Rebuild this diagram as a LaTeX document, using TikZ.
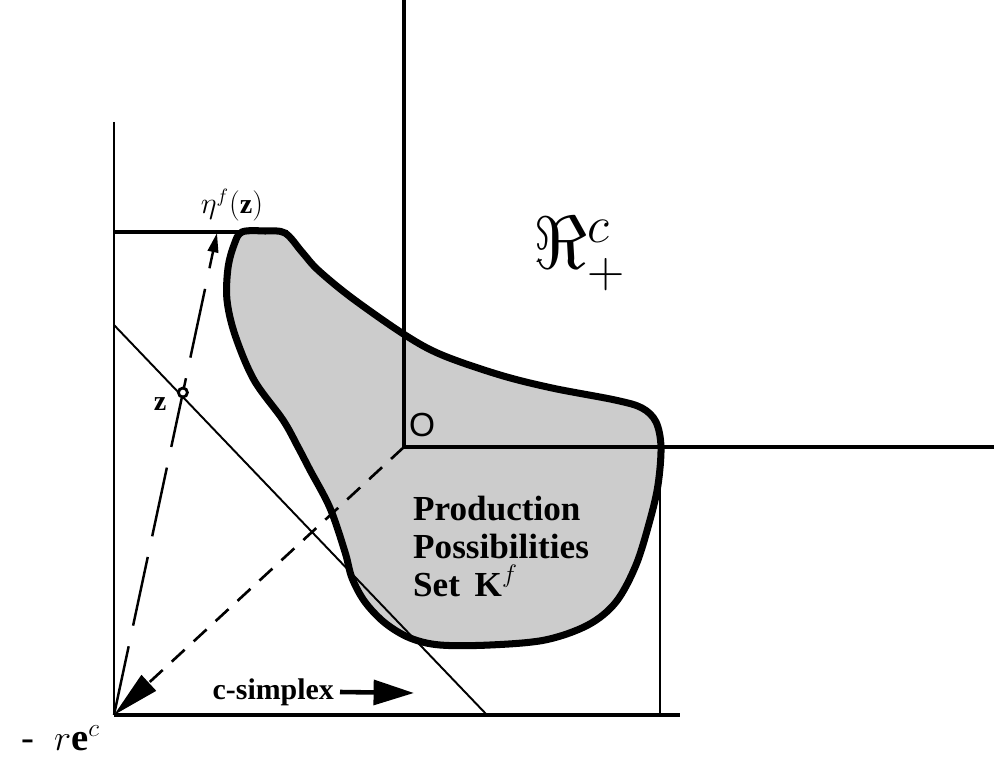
\documentclass[tikz,border=0pt]{standalone}
\usepackage{amsmath,amssymb}
\usepackage{fontspec}
\setmainfont{Liberation Serif}
\setsansfont{Liberation Sans}
\usetikzlibrary{
  calc,
  arrows.meta,
  positioning
}

\begin{document}
\begin{tikzpicture}[
    x=0.02cm, y=-0.02cm,
    % stili delle linee
    axis/.style={line width=1.9pt},
    frame/.style={line width=1.5pt},
    heavyframe/.style={line width=2.8pt},
    simplex/.style={line width=1.1pt},
    thin edge/.style={line width=1.1pt},
    pset/.style={line width=4pt, fill=black!20, line join=round},
    shortdash/.style={line width=1.5pt, dash pattern=on 10pt off 7pt},
    longdash/.style={line width=1.4pt, dash pattern=on 40pt off 12pt},
    bigtip/.style={-{Triangle[length=27pt,width=12pt]}},
    % stili dei testi
    setlabel/.style={font=\bfseries\fontsize{20}{21.5}\selectfont, align=left, anchor=base west},
    mathlabel/.style={font=\fontsize{16}{18}\selectfont}
  ]
  \useasboundingbox (0,0) rectangle (994,763);

  % Punti
  \coordinate (O) at (404,447);
  \coordinate (corner) at (114,715);
  \coordinate (eta) at (217,233);
  \coordinate (zpt) at ($(corner)!0.669!(eta)$);
  \coordinate (simplexA) at (114,325);
  \coordinate (simplexB) at (487,715);
  \coordinate (arrowend) at (414,693);

  % Insieme delle possibilita' di produzione
  \draw[pset] plot[smooth cycle, tension=0.55] coordinates {
      (242,232) (265,231) (285,233) (302,252) (318,270) (352,298)
      (405,335) (442,355) (500,375) (552,388) (615,400) (642,408)
      (656,422) (661,447) (658,485) (650,520) (636,565) (616,602)
      (588,625) (545,640) (490,645) (440,645) (410,638) (385,623)
      (365,602) (352,578) (345,552) (330,508) (310,470) (298,447)
      (283,420) (254,380) (235,335) (227,300) (228,268) (234,245)};

  % Assi e cornice
  \draw[axis] (O) -- (404,0);
  \draw[axis] (O) -- (994,447);
  \draw[frame] (114,122) -- (corner);
  \draw[heavyframe] (114,232) -- (288,232);
  \draw[heavyframe] (corner) -- (680,715);
  \draw[thin edge] (660,447) -- (660,715);
  \draw[simplex] (simplexA) -- (simplexB);

  % Raggi tratteggiati
  \draw[shortdash, bigtip] (O) -- (corner);
  \draw[longdash, -{Triangle[length=11pt,width=6pt]}] (corner) -- (eta);
  \draw[line width=1.6pt, fill=white] (zpt) circle (4.5);

  % Etichette
  \node (etalabel) [mathlabel] at (232,205) {$\eta^{f}(\mathbf{z})$};
  \node (zlabel) [mathlabel] at (160,404) {$\mathbf{z}$};
  \node (reals) [font=\fontsize{24}{26}\selectfont, scale=1.7] at (580,254) {$\Re^{c}_{+}$};
  \node (olabel) [font=\sffamily\fontsize{19}{21}\selectfont] at (422,425) {O};
  \node (pps) [setlabel] at (407,596) {Production\\Possibilities\\Set~\,\textbf{K}$^{f}$};
  \node (csimplex) [font=\bfseries\fontsize{17}{19}\selectfont, anchor=east] at (340,692) {c-simplex};
  \draw[line width=2.6pt, -{Triangle[length=23pt,width=14pt]}] (csimplex.east) -- (arrowend);
  \node (rec) [font=\fontsize{22}{24}\selectfont, anchor=base east] at (106,750) {-~~$r\mathbf{e}^{c}$};

\end{tikzpicture}
\end{document}
